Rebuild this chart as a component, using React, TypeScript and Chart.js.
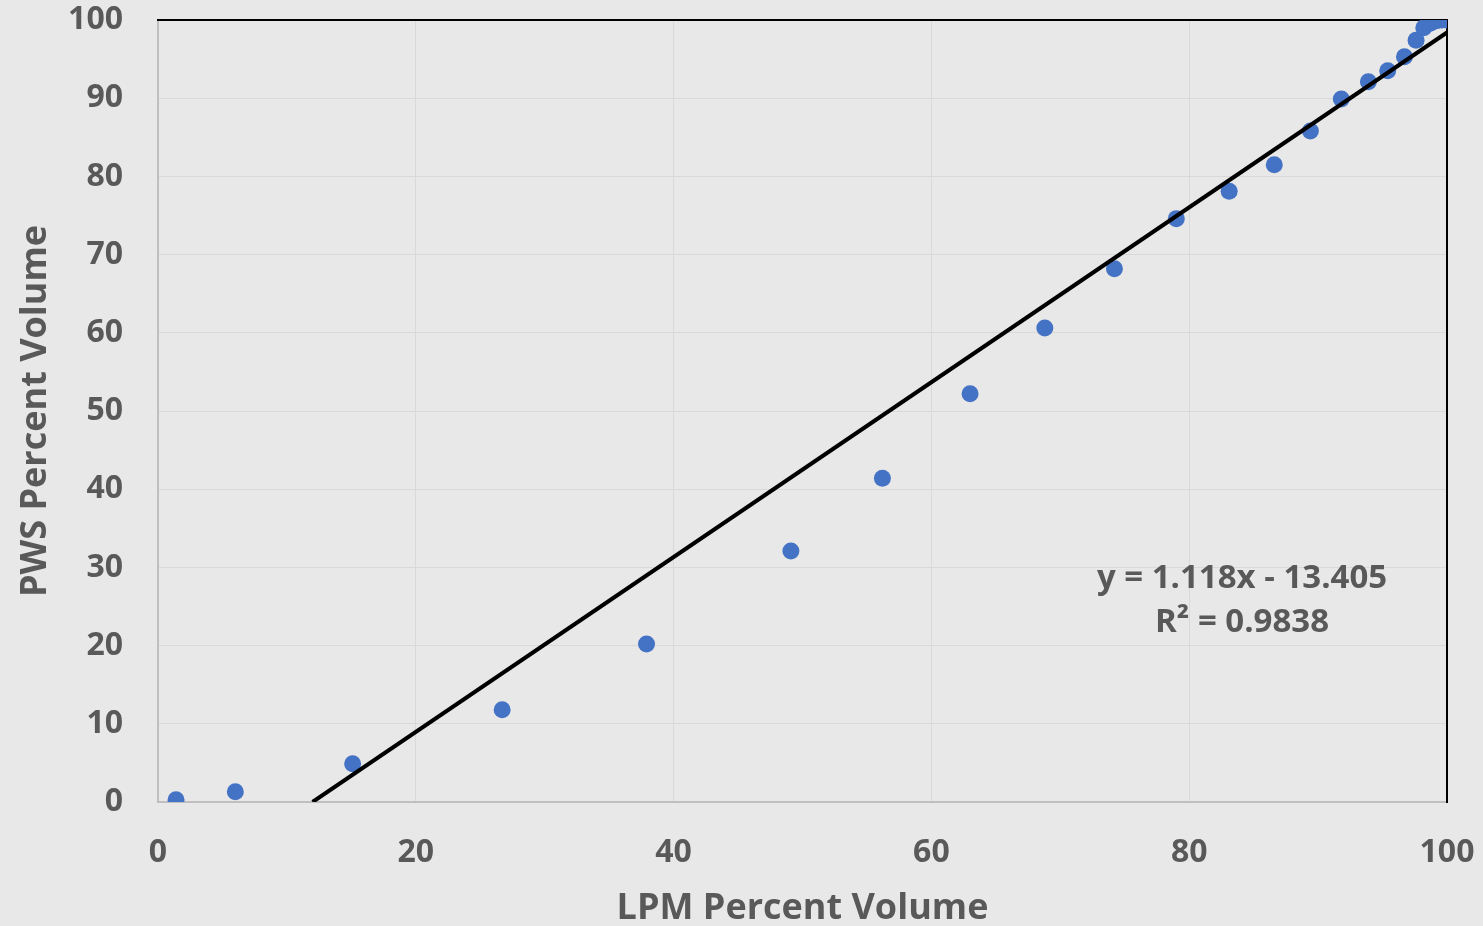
import React, { useEffect, useRef } from "react";
import { Chart, registerables } from "chart.js";

Chart.register(...registerables);

// LPM percent volume (x) vs PWS percent volume (y)
const lpmPercent = [1.4, 6.0, 15.1, 26.7, 37.9, 49.1, 56.2, 63.0, 68.8, 74.2, 79.0, 83.1, 86.6, 89.4, 91.8, 93.9, 95.4, 96.7, 97.6, 98.2, 98.7, 99.2, 99.6, 100];
const pwsPercent = [0.3, 1.3, 4.9, 11.8, 20.2, 32.1, 41.4, 52.2, 60.6, 68.2, 74.6, 78.1, 81.5, 85.8, 89.9, 92.1, 93.5, 95.3, 97.4, 99.0, 99.6, 99.9, 100, 100];

// Linear trendline end points (y = 1.118x - 13.405)
const trendX = [11.99, 100];
const trendY = [0, 98.4];

const equationLines = ["y = 1.118x - 13.405", "R\u00B2 = 0.9838"];
const equationAnchorX = 84.1;
const equationAnchorY = [28.6, 22.9];

const xTitle = "LPM Percent Volume";
const yTitle = "PWS Percent Volume";

const TEXT = "#595959";
const FONT = "'Open Sans', 'Liberation Sans', sans-serif";

const equationPlugin = {
  id: "equationText",
  afterDatasetsDraw(chart: any) {
    const { ctx, scales } = chart;
    const xs = scales.x;
    const ys = scales.y;
    ctx.save();
    ctx.fillStyle = TEXT;
    ctx.font = `bold 33px ${FONT}`;
    ctx.textAlign = "center";
    ctx.textBaseline = "middle";
    equationLines.forEach((line, i) => {
      ctx.fillText(line, xs.getPixelForValue(equationAnchorX), ys.getPixelForValue(equationAnchorY[i]));
    });
    ctx.restore();
  },
};

export default function App() {
  const canvasRef = useRef<HTMLCanvasElement | null>(null);

  useEffect(() => {
    document.body.style.margin = "0";
    document.body.style.background = "#e8e8e8";
    const canvas = canvasRef.current;
    if (!canvas) return;

    const chart = new Chart(canvas, {
      type: "scatter",
      data: {
        datasets: [
          {
            type: "line",
            label: "Linear trend",
            data: trendX.map((x, i) => ({ x, y: trendY[i] })),
            borderColor: "#000000",
            borderWidth: 4,
            pointRadius: 0,
            fill: false,
            order: 0,
          } as any,
          {
            label: "PWS vs LPM",
            data: lpmPercent.map((x, i) => ({ x, y: pwsPercent[i] })),
            backgroundColor: "#4472C4",
            borderColor: "#4472C4",
            pointRadius: 8.5,
            pointBorderWidth: 0,
            order: 1,
          },
        ],
      },
      plugins: [equationPlugin],
      options: {
        animation: false,
        responsive: true,
        maintainAspectRatio: false,
        layout: { padding: { top: 20, right: 36, left: 0, bottom: 0 } },
        plugins: {
          legend: { display: false },
          tooltip: { enabled: false },
        },
        scales: {
          x: {
            type: "linear",
            position: "bottom",
            min: 0,
            max: 100,
            afterFit: (s: any) => {
              s.height = 124;
              s.paddingLeft = 0;
              s.paddingRight = 0;
            },
            ticks: {
              stepSize: 20,
              color: TEXT,
              padding: 32,
              maxRotation: 0,
              font: { family: FONT, size: 32, weight: "bold" },
            },
            grid: { color: "#d9d9d9", lineWidth: 1, drawTicks: false },
            border: { color: "#bfbfbf", width: 2 },
            title: {
              display: true,
              text: xTitle,
              color: TEXT,
              padding: { top: 0, bottom: -4 },
              font: { family: FONT, size: 36, weight: "bold" },
            },
          },
          y: {
            type: "linear",
            position: "left",
            min: 0,
            max: 100,
            afterFit: (s: any) => {
              s.width = 158;
              s.paddingTop = 0;
              s.paddingBottom = 0;
            },
            ticks: {
              stepSize: 10,
              color: TEXT,
              padding: 35,
              font: { family: FONT, size: 32, weight: "bold" },
            },
            grid: { color: "#d9d9d9", lineWidth: 1, drawTicks: false },
            border: { color: "#bfbfbf", width: 2 },
            title: {
              display: true,
              text: yTitle,
              color: TEXT,
              padding: { top: 14, bottom: 0 },
              font: { family: FONT, size: 36, weight: "bold" },
            },
          },
          x2: {
            type: "linear",
            position: "top",
            min: 0,
            max: 100,
            afterFit: (s: any) => {
              s.height = 0;
              s.paddingLeft = 0;
              s.paddingRight = 0;
            },
            ticks: { display: false },
            grid: { drawOnChartArea: false, drawTicks: false },
            border: { color: "#000000", width: 2 },
          },
          y2: {
            type: "linear",
            position: "right",
            min: 0,
            max: 100,
            afterFit: (s: any) => {
              s.width = 0;
              s.paddingTop = 0;
              s.paddingBottom = 0;
            },
            ticks: { display: false },
            grid: { drawOnChartArea: false, drawTicks: false },
            border: { color: "#000000", width: 2 },
          },
        },
      } as any,
    });

    return () => chart.destroy();
  }, []);

  return (
    <div style={{ width: 1483, height: 926, position: "relative", background: "#e8e8e8" }}>
      <canvas ref={canvasRef} />
    </div>
  );
}
